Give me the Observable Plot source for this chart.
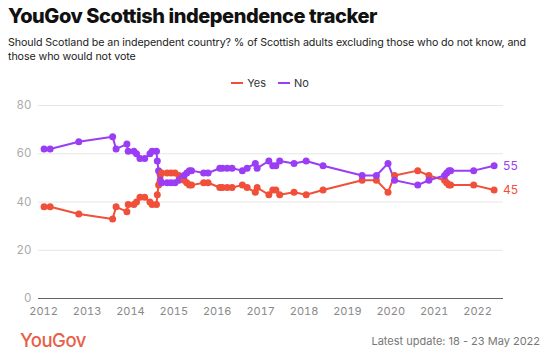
<!DOCTYPE html>
<html>
<head>
<meta charset="utf-8">
<script src="https://cdn.jsdelivr.net/npm/d3@7"></script>
<script src="https://cdn.jsdelivr.net/npm/@observablehq/plot@0.6"></script>
<style>
  html, body { margin: 0; padding: 0; background: #fff; }
  body { width: 550px; height: 357px; position: relative; overflow: hidden; font-family: Inter, "Noto Sans", sans-serif; }
  #title { position: absolute; left: 8px; top: 4px; font-size: 20px; font-weight: 800; letter-spacing: -0.45px; color: #111; white-space: nowrap; }
  #subtitle { position: absolute; left: 8px; top: 36px; width: 535px; font-size: 10.7px; line-height: 14px; color: #222; letter-spacing: -0.1px; }
  #legend { position: absolute; left: 0; width: 540px; top: 76px; text-align: center; font-size: 11px; color: #333; }
  #legend span.item { display: inline-block; margin: 0 6px; }
  #legend span.sw { display: inline-block; width: 12px; height: 2px; vertical-align: middle; margin-right: 4px; position: relative; top: -1px; }
  #chart { position: absolute; left: 0; top: 95px; }
  #logo { position: absolute; left: 20px; top: 329px; font-size: 18.5px; font-weight: 500; color: #e95e48; letter-spacing: -0.5px; }
  #update { position: absolute; right: 10px; top: 334px; font-size: 11px; color: #777; }
</style>
</head>
<body>
<div id="title">YouGov Scottish independence tracker</div>
<div id="subtitle">Should Scotland be an independent country? % of Scottish adults excluding those who do not know, and those who would not vote</div>
<div id="legend"></div>
<div id="chart"></div>
<div id="logo">YouGov</div>
<div id="update">Latest update: 18 - 23 May 2022</div>
<script>
const seriesNames = ["Yes", "No"];
const seriesColors = ["#f0503a", "#9a3df5"];
const dates = [
  "2012-01-05","2012-02-25","2012-10-23","2013-08-04","2013-09-02","2013-12-02","2013-12-13",
  "2014-01-30","2014-02-21","2014-03-22","2014-05-01","2014-06-14","2014-07-02","2014-08-08",
  "2014-08-15","2014-08-26","2014-09-06","2014-09-09","2014-09-12","2014-09-20","2014-11-06",
  "2014-12-09","2015-01-11","2015-02-13","2015-03-07","2015-03-29","2015-04-20","2015-05-12",
  "2015-05-30","2015-09-09","2015-10-16","2016-01-23","2016-02-14","2016-03-25","2016-05-05",
  "2016-07-31","2016-09-09","2016-11-17","2016-12-02","2017-03-11","2017-04-13","2017-05-09",
  "2017-06-10","2017-10-09","2018-01-19","2018-06-10","2019-05-05","2019-09-02","2019-12-09",
  "2020-02-02","2020-08-15","2020-11-17","2021-03-29","2021-04-16","2021-05-05","2021-05-19",
  "2021-11-29","2022-05-20"
];
const yesValues = [
  38,38,35,33,38,36,39,
  39,40,42,42,40,39,39,
  43,47,48,51,48,52,52,
  52,52,51,50,49,48,47,
  47,48,48,46,46,46,46,
  47,46,44,46,43,45,45,
  43,44,43,45,49,49,44,
  51,53,51,49,48,47,47,
  47,45
];
const noValues = [
  62,62,65,67,62,64,61,
  61,60,58,58,60,61,61,
  57,53,52,49,52,48,48,
  48,48,49,50,51,52,53,
  53,52,52,54,54,54,54,
  53,54,56,54,57,55,55,
  57,56,57,55,51,51,56,
  49,47,49,51,52,53,53,
  53,55
];
const yTicks = [0, 20, 40, 60, 80];

// legend
const legend = document.getElementById("legend");
seriesNames.forEach((s, i) => {
  const item = document.createElement("span");
  item.className = "item";
  const sw = document.createElement("span");
  sw.className = "sw";
  sw.style.background = seriesColors[i];
  item.appendChild(sw);
  item.appendChild(document.createTextNode(s));
  legend.appendChild(item);
});

const parse = d3.utcParse("%Y-%m-%d");
const rows = [];
dates.forEach((d, i) => {
  rows.push({date: parse(d), value: yesValues[i], series: "Yes"});
  rows.push({date: parse(d), value: noValues[i], series: "No"});
});
const last = rows.filter(r => +r.date === +parse(dates[dates.length - 1]));

const chart = Plot.plot({
  width: 550,
  height: 225,
  marginLeft: 38,
  marginRight: 47,
  marginTop: 10,
  marginBottom: 22,
  style: {fontFamily: "Inter, 'Noto Sans', sans-serif", fontSize: "11px", background: "transparent"},
  x: {type: "utc", domain: [parse("2011-11-19"), parse("2022-08-07")]},
  y: {domain: [0, 80]},
  color: {domain: seriesNames, range: seriesColors},
  marks: [
    Plot.ruleY(yTicks.filter(t => t > 0), {stroke: "#e6e6e6", strokeWidth: 1.2}),
    Plot.ruleY([0], {stroke: "#666", strokeWidth: 1}),
    Plot.axisY({ticks: yTicks, tickSize: 0, tickPadding: 7, fill: "#aaa", label: null, fontSize: 11.5}),
    Plot.axisX({ticks: d3.utcYear.every(1), tickFormat: d3.utcFormat("%Y"), tickSize: 0, tickPadding: 9, fill: "#888", label: null}),
    Plot.line(rows, {x: "date", y: "value", z: "series", stroke: "series", strokeWidth: 2}),
    Plot.dot(rows, {x: "date", y: "value", fill: "series", r: 3.5}),
    Plot.text(last, {x: "date", y: "value", text: d => String(d.value), fill: "series", dx: 9, textAnchor: "start", fontSize: 12})
  ]
});
document.getElementById("chart").appendChild(chart);
</script>
</body>
</html>
